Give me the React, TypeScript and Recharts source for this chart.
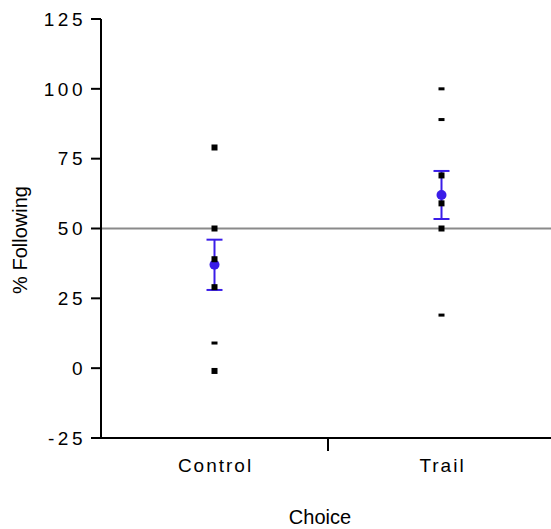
import { ComposedChart, ErrorBar, ReferenceLine, Scatter, XAxis, YAxis } from "recharts";

const categories = ["Control", "Trail"];
const controlSquares = [79, 50, 39, 29, -1];
const controlDashes = [9];
const trailSquares = [69, 59, 50];
const trailDashes = [100, 89, 19];
const means = [37, 62];
const errors = [9, 8.6];
const yTicks = [-25, 0, 25, 50, 75, 100, 125];

const BLUE = "#3a1de8";
const FONT = "'Liberation Sans', Arial, sans-serif";

// ogni categoria sta al centro della sua banda [i, i+1]
const atCategory = (i: number, values: number[]) => values.map((y) => ({ x: i + 0.5, y }));

const squares = [...atCategory(0, controlSquares), ...atCategory(1, trailSquares)];
const dashes = [...atCategory(0, controlDashes), ...atCategory(1, trailDashes)];
const meanPoints = means.map((y, i) => ({ x: i + 0.5, y, err: errors[i] }));

function Square({ cx, cy }: any) {
  return <rect x={cx - 3} y={cy - 3} width={6} height={6} fill="#000" />;
}

function Dash({ cx, cy }: any) {
  return <rect x={cx - 3} y={cy - 1.5} width={6} height={3} fill="#000" />;
}

function Mean({ cx, cy }: any) {
  return <circle cx={cx} cy={cy} r={5} fill={BLUE} />;
}

function XTick({ x, y, payload }: any) {
  if (payload.value === 1) {
    return <line x1={x} y1={y} x2={x} y2={y + 13} stroke="#000" strokeWidth={2} />;
  }
  const nome = categories[Math.floor(payload.value)];
  return (
    <text x={x + 1} y={y + 34} textAnchor="middle" fill="#000" fontSize={19} fontFamily={FONT} letterSpacing={2}>
      {nome}
    </text>
  );
}

function YTitle() {
  return (
    <text x={27} y={240} transform="rotate(-90 27 240)" textAnchor="middle" fill="#000" fontSize={20} fontFamily={FONT}>
      % Following
    </text>
  );
}

function XTitle() {
  return (
    <text x={320} y={524} textAnchor="middle" fill="#000" fontSize={20} fontFamily={FONT}>
      Choice
    </text>
  );
}

export default function App() {
  return (
    <div style={{ position: "absolute", left: 0, top: 0, width: 551, height: 529, overflow: "hidden", background: "#fff" }}>
      <ComposedChart width={560} height={529} margin={{ top: 19, right: 5, bottom: 0, left: 0 }}>
        <XAxis
          type="number"
          dataKey="x"
          domain={[0, 2]}
          ticks={[0.5, 1, 1.5]}
          height={91}
          axisLine={{ stroke: "#000", strokeWidth: 2 }}
          tickLine={false}
          tickSize={0}
          tickMargin={0}
          tick={<XTick />}
          label={<XTitle />}
        />
        <YAxis
          type="number"
          dataKey="y"
          domain={[-25, 125]}
          ticks={yTicks}
          width={101}
          axisLine={{ stroke: "#000", strokeWidth: 2 }}
          tickLine={{ stroke: "#000", strokeWidth: 2 }}
          tickSize={10}
          tickMargin={5}
          tick={{ fill: "#000", fontSize: 19, fontFamily: FONT, letterSpacing: 3.5 }}
          label={<YTitle />}
        />
        <ReferenceLine y={50} stroke="#8a8a8a" strokeWidth={2} />
        <Scatter data={meanPoints} shape={<Mean />} isAnimationActive={false}>
          <ErrorBar dataKey="err" direction="y" width={8} stroke={BLUE} strokeWidth={2} isAnimationActive={false} />
        </Scatter>
        <Scatter data={squares} shape={<Square />} isAnimationActive={false} />
        <Scatter data={dashes} shape={<Dash />} isAnimationActive={false} />
      </ComposedChart>
    </div>
  );
}
